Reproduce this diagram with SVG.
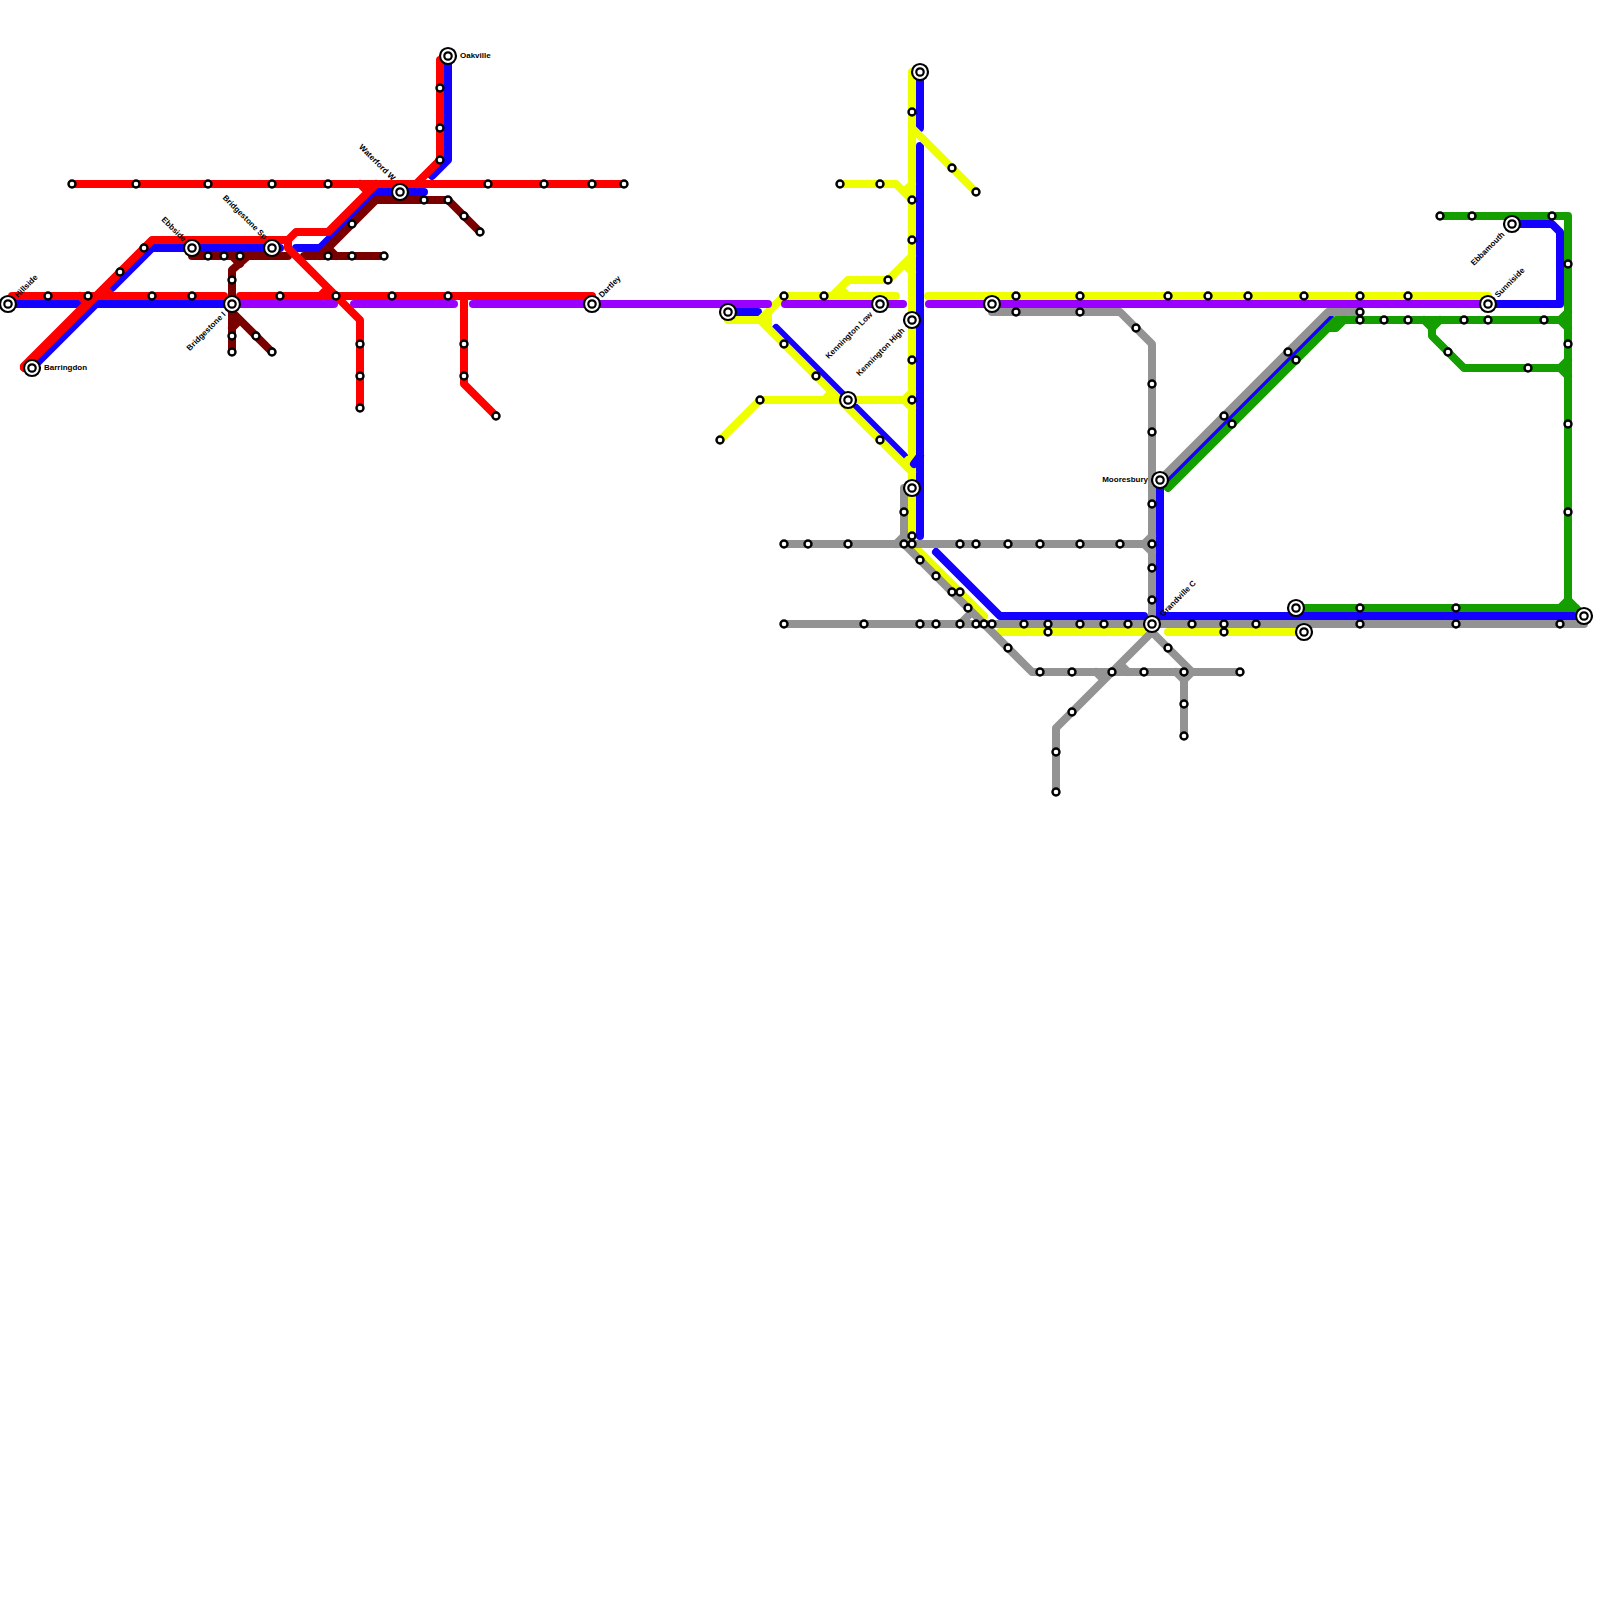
<svg xmlns="http://www.w3.org/2000/svg" width="1600" height="1600" viewBox="0 0 1600 1600">
<style>
.l{fill:none;stroke-width:8;stroke-linecap:round;stroke-linejoin:round}
.r{stroke:#ff0000}.b{stroke:#1400ff}.p{stroke:#9900ff}.y{stroke:#eeff00}.d{stroke:#7a0000}.g{stroke:#149e00}.a{stroke:#939393}
.s{fill:#fff;stroke:#000;stroke-width:2.4}
.o{fill:#fff;stroke:#000;stroke-width:2.2}
.i{fill:#fff;stroke:#000;stroke-width:2.2}
text{font-family:"Liberation Sans",Arial,sans-serif;font-size:8px;font-weight:bold;fill:#000}
</style>
<rect width="1600" height="1600" fill="#fff"/>
<g id="connectors">
<path class="l b" d="M8 304H232M32 368L96 304M112 288L152 248H280M296 248H320L376 192H424M448 60V160L432 176"/>
<path class="l b" d="M728 312H758M776 328L904 456M920 72V128M920 146V536M936 552L1000 616H1144M1160 480V616H1584M1160 488L1330 318"/>
<path class="l b" d="M1512 224H1552L1560 232V304H1488"/>
<path class="l y" d="M912 72V544M912 128L976 192M840 184H896L912 200M832 296L848 280H888L912 256M904 264L912 272M904 192L912 184M840 288L848 296"/>
<path class="l y" d="M784 296H896M928 296H1488M728 320H760L784 296M760 320L912 472M768 312V324M720 440L760 400H912M904 400L912 392M904 400L912 408M824 400L832 392M904 464L908 460"/>
<path class="l b" d="M920 456L914 464"/>
<path class="l y" d="M912 544L984 616M1000 632H1143M1168 632H1304"/>
<path class="l a" d="M992 312H1120L1152 344V616M784 544H1152M896 544L904 536M1144 544L1152 536M1144 544L1152 552M904 488V544L1032 672H1240M960 624L968 616"/>
<path class="l a" d="M784 624H1584M1152 632L1056 728V792M1152 632L1192 672M1184 672V736M1176 672L1184 680L1192 672M1096 672L1104 680M1120 664L1128 672M1160 480L1328 312H1360"/>
<path class="l g" d="M1440 216H1568V600M1168 488L1336 320H1560M1328 328H1336L1344 320M1560 320L1568 312M1560 320L1568 328M1424 320L1432 328L1440 320M1432 328V336L1464 368H1560M1560 368L1568 360M1560 368L1568 376M1296 608H1576M1560 608L1568 600L1580 612"/>
<path class="l p" d="M232 304H334M354 304H454M473 304H768M785 304H903M929 304H1488"/>
<path class="l d" d="M192 256H288M304 256H384M232 352V270L248 256M232 256L240 264M232 312L272 352M232 328L240 320M320 256L376 200H448L480 232M328 248L336 256"/>
<path class="l r" d="M72 184H624M12 296H224M240 296H592M24 368L152 240H288L296 232H328L376 184M88 302L24 366M80 296L88 304M104 288L112 296M288 240V248L344 304L360 320V408M320 296L328 288M360 184L368 192M464 296V384L496 416M440 60V160L416 184"/>
</g>
<g id="hillside"><circle class="o" cx="8" cy="304" r="8"/><circle class="i" cx="8" cy="304" r="3.7"/><text transform="translate(18,298) rotate(-45)">Hillside</text></g>
<g id="barringdon"><circle class="o" cx="32" cy="368" r="8"/><circle class="i" cx="32" cy="368" r="3.7"/><text x="44" y="370">Barringdon</text></g>
<g id="ebbside"><circle class="o" cx="192" cy="248" r="8"/><circle class="i" cx="192" cy="248" r="3.7"/><text transform="translate(183,242) rotate(45)" text-anchor="end">Ebbside</text></g>
<g id="bridgestone-sp"><circle class="o" cx="272" cy="248" r="8"/><circle class="i" cx="272" cy="248" r="3.7"/><text transform="translate(264,240) rotate(45)" text-anchor="end">Bridgestone Sp</text></g>
<g id="bridgestone-i"><circle class="o" cx="232" cy="304" r="8"/><circle class="i" cx="232" cy="304" r="3.7"/><text transform="translate(226,315) rotate(-45)" text-anchor="end">Bridgestone I</text></g>
<g id="waterford-w"><circle class="o" cx="400" cy="192" r="8"/><circle class="i" cx="400" cy="192" r="3.7"/><text transform="translate(392,181) rotate(45)" text-anchor="end">Waterford W</text></g>
<g id="oakville"><circle class="o" cx="448" cy="56" r="8"/><circle class="i" cx="448" cy="56" r="3.7"/><text x="460" y="58">Oakville</text></g>
<g id="dartley"><circle class="o" cx="592" cy="304" r="8"/><circle class="i" cx="592" cy="304" r="3.7"/><text transform="translate(602,298) rotate(-45)">Dartley</text></g>
<g id="i-728"><circle class="o" cx="728" cy="312" r="8"/><circle class="i" cx="728" cy="312" r="3.7"/></g>
<g id="i-920"><circle class="o" cx="920" cy="72" r="8"/><circle class="i" cx="920" cy="72" r="3.7"/></g>
<g id="kennington-low"><circle class="o" cx="880" cy="304" r="8"/><circle class="i" cx="880" cy="304" r="3.7"/><text transform="translate(873,315) rotate(-45)" text-anchor="end">Kennington Low</text></g>
<g id="kennington-high"><circle class="o" cx="912" cy="320" r="8"/><circle class="i" cx="912" cy="320" r="3.7"/><text transform="translate(905,331) rotate(-45)" text-anchor="end">Kennington High</text></g>
<g id="i-848"><circle class="o" cx="848" cy="400" r="8"/><circle class="i" cx="848" cy="400" r="3.7"/></g>
<g id="i-912"><circle class="o" cx="912" cy="488" r="8"/><circle class="i" cx="912" cy="488" r="3.7"/></g>
<g id="i-992"><circle class="o" cx="992" cy="304" r="8"/><circle class="i" cx="992" cy="304" r="3.7"/></g>
<g id="mooresbury"><circle class="o" cx="1160" cy="480" r="8"/><circle class="i" cx="1160" cy="480" r="3.7"/><text x="1148" y="482" text-anchor="end">Mooresbury</text></g>
<g id="grandville-c"><circle class="o" cx="1152" cy="624" r="8"/><circle class="i" cx="1152" cy="624" r="3.7"/><text transform="translate(1163,617) rotate(-45)">Grandville C</text></g>
<g id="i-1296"><circle class="o" cx="1296" cy="608" r="8"/><circle class="i" cx="1296" cy="608" r="3.7"/></g>
<g id="i-1304"><circle class="o" cx="1304" cy="632" r="8"/><circle class="i" cx="1304" cy="632" r="3.7"/></g>
<g id="i-1584"><circle class="o" cx="1584" cy="616" r="8"/><circle class="i" cx="1584" cy="616" r="3.7"/></g>
<g id="sunniside"><circle class="o" cx="1488" cy="304" r="8"/><circle class="i" cx="1488" cy="304" r="3.7"/><text transform="translate(1498,298) rotate(-45)">Sunniside</text></g>
<g id="ebbamouth"><circle class="o" cx="1512" cy="224" r="8"/><circle class="i" cx="1512" cy="224" r="3.7"/><text transform="translate(1505,235) rotate(-45)" text-anchor="end">Ebbamouth</text></g>
<g id="s1"><circle class="s" cx="72" cy="184" r="3.5"/></g>
<g id="s2"><circle class="s" cx="136" cy="184" r="3.5"/></g>
<g id="s3"><circle class="s" cx="208" cy="184" r="3.5"/></g>
<g id="s4"><circle class="s" cx="272" cy="184" r="3.5"/></g>
<g id="s5"><circle class="s" cx="328" cy="184" r="3.5"/></g>
<g id="s6"><circle class="s" cx="488" cy="184" r="3.5"/></g>
<g id="s7"><circle class="s" cx="544" cy="184" r="3.5"/></g>
<g id="s8"><circle class="s" cx="592" cy="184" r="3.5"/></g>
<g id="s9"><circle class="s" cx="624" cy="184" r="3.5"/></g>
<g id="s10"><circle class="s" cx="48" cy="296" r="3.5"/></g>
<g id="s11"><circle class="s" cx="88" cy="296" r="3.5"/></g>
<g id="s12"><circle class="s" cx="152" cy="296" r="3.5"/></g>
<g id="s13"><circle class="s" cx="192" cy="296" r="3.5"/></g>
<g id="s14"><circle class="s" cx="280" cy="296" r="3.5"/></g>
<g id="s15"><circle class="s" cx="336" cy="296" r="3.5"/></g>
<g id="s16"><circle class="s" cx="392" cy="296" r="3.5"/></g>
<g id="s17"><circle class="s" cx="448" cy="296" r="3.5"/></g>
<g id="s18"><circle class="s" cx="144" cy="248" r="3.5"/></g>
<g id="s19"><circle class="s" cx="120" cy="272" r="3.5"/></g>
<g id="s20"><circle class="s" cx="208" cy="256" r="3.5"/></g>
<g id="s21"><circle class="s" cx="224" cy="256" r="3.5"/></g>
<g id="s22"><circle class="s" cx="240" cy="256" r="3.5"/></g>
<g id="s23"><circle class="s" cx="328" cy="256" r="3.5"/></g>
<g id="s24"><circle class="s" cx="352" cy="256" r="3.5"/></g>
<g id="s25"><circle class="s" cx="384" cy="256" r="3.5"/></g>
<g id="s26"><circle class="s" cx="352" cy="224" r="3.5"/></g>
<g id="s27"><circle class="s" cx="232" cy="280" r="3.5"/></g>
<g id="s28"><circle class="s" cx="232" cy="336" r="3.5"/></g>
<g id="s29"><circle class="s" cx="232" cy="352" r="3.5"/></g>
<g id="s30"><circle class="s" cx="256" cy="336" r="3.5"/></g>
<g id="s31"><circle class="s" cx="272" cy="352" r="3.5"/></g>
<g id="s32"><circle class="s" cx="360" cy="344" r="3.5"/></g>
<g id="s33"><circle class="s" cx="360" cy="376" r="3.5"/></g>
<g id="s34"><circle class="s" cx="360" cy="408" r="3.5"/></g>
<g id="s35"><circle class="s" cx="440" cy="88" r="3.5"/></g>
<g id="s36"><circle class="s" cx="440" cy="128" r="3.5"/></g>
<g id="s37"><circle class="s" cx="440" cy="160" r="3.5"/></g>
<g id="s38"><circle class="s" cx="424" cy="200" r="3.5"/></g>
<g id="s39"><circle class="s" cx="448" cy="200" r="3.5"/></g>
<g id="s40"><circle class="s" cx="464" cy="216" r="3.5"/></g>
<g id="s41"><circle class="s" cx="480" cy="232" r="3.5"/></g>
<g id="s42"><circle class="s" cx="464" cy="344" r="3.5"/></g>
<g id="s43"><circle class="s" cx="464" cy="376" r="3.5"/></g>
<g id="s44"><circle class="s" cx="496" cy="416" r="3.5"/></g>
<g id="s45"><circle class="s" cx="912" cy="112" r="3.5"/></g>
<g id="s46"><circle class="s" cx="912" cy="200" r="3.5"/></g>
<g id="s47"><circle class="s" cx="912" cy="240" r="3.5"/></g>
<g id="s48"><circle class="s" cx="952" cy="168" r="3.5"/></g>
<g id="s49"><circle class="s" cx="976" cy="192" r="3.5"/></g>
<g id="s50"><circle class="s" cx="840" cy="184" r="3.5"/></g>
<g id="s51"><circle class="s" cx="880" cy="184" r="3.5"/></g>
<g id="s52"><circle class="s" cx="888" cy="280" r="3.5"/></g>
<g id="s53"><circle class="s" cx="784" cy="296" r="3.5"/></g>
<g id="s54"><circle class="s" cx="824" cy="296" r="3.5"/></g>
<g id="s55"><circle class="s" cx="1016" cy="296" r="3.5"/></g>
<g id="s56"><circle class="s" cx="1016" cy="312" r="3.5"/></g>
<g id="s57"><circle class="s" cx="912" cy="360" r="3.5"/></g>
<g id="s58"><circle class="s" cx="784" cy="344" r="3.5"/></g>
<g id="s59"><circle class="s" cx="816" cy="376" r="3.5"/></g>
<g id="s60"><circle class="s" cx="912" cy="400" r="3.5"/></g>
<g id="s61"><circle class="s" cx="760" cy="400" r="3.5"/></g>
<g id="s62"><circle class="s" cx="720" cy="440" r="3.5"/></g>
<g id="s63"><circle class="s" cx="880" cy="440" r="3.5"/></g>
<g id="s64"><circle class="s" cx="904" cy="512" r="3.5"/></g>
<g id="s65"><circle class="s" cx="912" cy="536" r="3.5"/></g>
<g id="s66"><circle class="s" cx="784" cy="544" r="3.5"/></g>
<g id="s67"><circle class="s" cx="808" cy="544" r="3.5"/></g>
<g id="s68"><circle class="s" cx="848" cy="544" r="3.5"/></g>
<g id="s69"><circle class="s" cx="904" cy="544" r="3.5"/></g>
<g id="s70"><circle class="s" cx="912" cy="544" r="3.5"/></g>
<g id="s71"><circle class="s" cx="960" cy="544" r="3.5"/></g>
<g id="s72"><circle class="s" cx="976" cy="544" r="3.5"/></g>
<g id="s73"><circle class="s" cx="1008" cy="544" r="3.5"/></g>
<g id="s74"><circle class="s" cx="1040" cy="544" r="3.5"/></g>
<g id="s75"><circle class="s" cx="1080" cy="544" r="3.5"/></g>
<g id="s76"><circle class="s" cx="1120" cy="544" r="3.5"/></g>
<g id="s77"><circle class="s" cx="920" cy="560" r="3.5"/></g>
<g id="s78"><circle class="s" cx="936" cy="576" r="3.5"/></g>
<g id="s79"><circle class="s" cx="952" cy="592" r="3.5"/></g>
<g id="s80"><circle class="s" cx="960" cy="592" r="3.5"/></g>
<g id="s81"><circle class="s" cx="968" cy="608" r="3.5"/></g>
<g id="s82"><circle class="s" cx="784" cy="624" r="3.5"/></g>
<g id="s83"><circle class="s" cx="864" cy="624" r="3.5"/></g>
<g id="s84"><circle class="s" cx="920" cy="624" r="3.5"/></g>
<g id="s85"><circle class="s" cx="936" cy="624" r="3.5"/></g>
<g id="s86"><circle class="s" cx="960" cy="624" r="3.5"/></g>
<g id="s87"><circle class="s" cx="976" cy="624" r="3.5"/></g>
<g id="s88"><circle class="s" cx="984" cy="624" r="3.5"/></g>
<g id="s89"><circle class="s" cx="992" cy="624" r="3.5"/></g>
<g id="s90"><circle class="s" cx="1024" cy="624" r="3.5"/></g>
<g id="s91"><circle class="s" cx="1048" cy="624" r="3.5"/></g>
<g id="s92"><circle class="s" cx="1048" cy="632" r="3.5"/></g>
<g id="s93"><circle class="s" cx="1080" cy="624" r="3.5"/></g>
<g id="s94"><circle class="s" cx="1104" cy="624" r="3.5"/></g>
<g id="s95"><circle class="s" cx="1128" cy="624" r="3.5"/></g>
<g id="s96"><circle class="s" cx="1192" cy="624" r="3.5"/></g>
<g id="s97"><circle class="s" cx="1224" cy="624" r="3.5"/></g>
<g id="s98"><circle class="s" cx="1224" cy="632" r="3.5"/></g>
<g id="s99"><circle class="s" cx="1256" cy="624" r="3.5"/></g>
<g id="s100"><circle class="s" cx="1008" cy="648" r="3.5"/></g>
<g id="s101"><circle class="s" cx="1040" cy="672" r="3.5"/></g>
<g id="s102"><circle class="s" cx="1072" cy="672" r="3.5"/></g>
<g id="s103"><circle class="s" cx="1112" cy="672" r="3.5"/></g>
<g id="s104"><circle class="s" cx="1144" cy="672" r="3.5"/></g>
<g id="s105"><circle class="s" cx="1184" cy="672" r="3.5"/></g>
<g id="s106"><circle class="s" cx="1240" cy="672" r="3.5"/></g>
<g id="s107"><circle class="s" cx="1168" cy="648" r="3.5"/></g>
<g id="s108"><circle class="s" cx="1184" cy="704" r="3.5"/></g>
<g id="s109"><circle class="s" cx="1184" cy="736" r="3.5"/></g>
<g id="s110"><circle class="s" cx="1072" cy="712" r="3.5"/></g>
<g id="s111"><circle class="s" cx="1056" cy="752" r="3.5"/></g>
<g id="s112"><circle class="s" cx="1056" cy="792" r="3.5"/></g>
<g id="s113"><circle class="s" cx="1080" cy="296" r="3.5"/></g>
<g id="s114"><circle class="s" cx="1080" cy="312" r="3.5"/></g>
<g id="s115"><circle class="s" cx="1136" cy="328" r="3.5"/></g>
<g id="s116"><circle class="s" cx="1152" cy="384" r="3.5"/></g>
<g id="s117"><circle class="s" cx="1152" cy="432" r="3.5"/></g>
<g id="s118"><circle class="s" cx="1152" cy="504" r="3.5"/></g>
<g id="s119"><circle class="s" cx="1152" cy="544" r="3.5"/></g>
<g id="s120"><circle class="s" cx="1152" cy="568" r="3.5"/></g>
<g id="s121"><circle class="s" cx="1152" cy="600" r="3.5"/></g>
<g id="s122"><circle class="s" cx="1168" cy="296" r="3.5"/></g>
<g id="s123"><circle class="s" cx="1208" cy="296" r="3.5"/></g>
<g id="s124"><circle class="s" cx="1248" cy="296" r="3.5"/></g>
<g id="s125"><circle class="s" cx="1304" cy="296" r="3.5"/></g>
<g id="s126"><circle class="s" cx="1360" cy="296" r="3.5"/></g>
<g id="s127"><circle class="s" cx="1408" cy="296" r="3.5"/></g>
<g id="s128"><circle class="s" cx="1360" cy="312" r="3.5"/></g>
<g id="s129"><circle class="s" cx="1360" cy="320" r="3.5"/></g>
<g id="s130"><circle class="s" cx="1384" cy="320" r="3.5"/></g>
<g id="s131"><circle class="s" cx="1408" cy="320" r="3.5"/></g>
<g id="s132"><circle class="s" cx="1464" cy="320" r="3.5"/></g>
<g id="s133"><circle class="s" cx="1488" cy="320" r="3.5"/></g>
<g id="s134"><circle class="s" cx="1544" cy="320" r="3.5"/></g>
<g id="s135"><circle class="s" cx="1224" cy="416" r="3.5"/></g>
<g id="s136"><circle class="s" cx="1232" cy="424" r="3.5"/></g>
<g id="s137"><circle class="s" cx="1288" cy="352" r="3.5"/></g>
<g id="s138"><circle class="s" cx="1296" cy="360" r="3.5"/></g>
<g id="s139"><circle class="s" cx="1440" cy="216" r="3.5"/></g>
<g id="s140"><circle class="s" cx="1472" cy="216" r="3.5"/></g>
<g id="s141"><circle class="s" cx="1552" cy="216" r="3.5"/></g>
<g id="s142"><circle class="s" cx="1568" cy="264" r="3.5"/></g>
<g id="s143"><circle class="s" cx="1568" cy="344" r="3.5"/></g>
<g id="s144"><circle class="s" cx="1568" cy="424" r="3.5"/></g>
<g id="s145"><circle class="s" cx="1568" cy="512" r="3.5"/></g>
<g id="s146"><circle class="s" cx="1448" cy="352" r="3.5"/></g>
<g id="s147"><circle class="s" cx="1528" cy="368" r="3.5"/></g>
<g id="s148"><circle class="s" cx="1360" cy="608" r="3.5"/></g>
<g id="s149"><circle class="s" cx="1456" cy="608" r="3.5"/></g>
<g id="s150"><circle class="s" cx="1360" cy="624" r="3.5"/></g>
<g id="s151"><circle class="s" cx="1456" cy="624" r="3.5"/></g>
<g id="s152"><circle class="s" cx="1560" cy="624" r="3.5"/></g>
</svg>
